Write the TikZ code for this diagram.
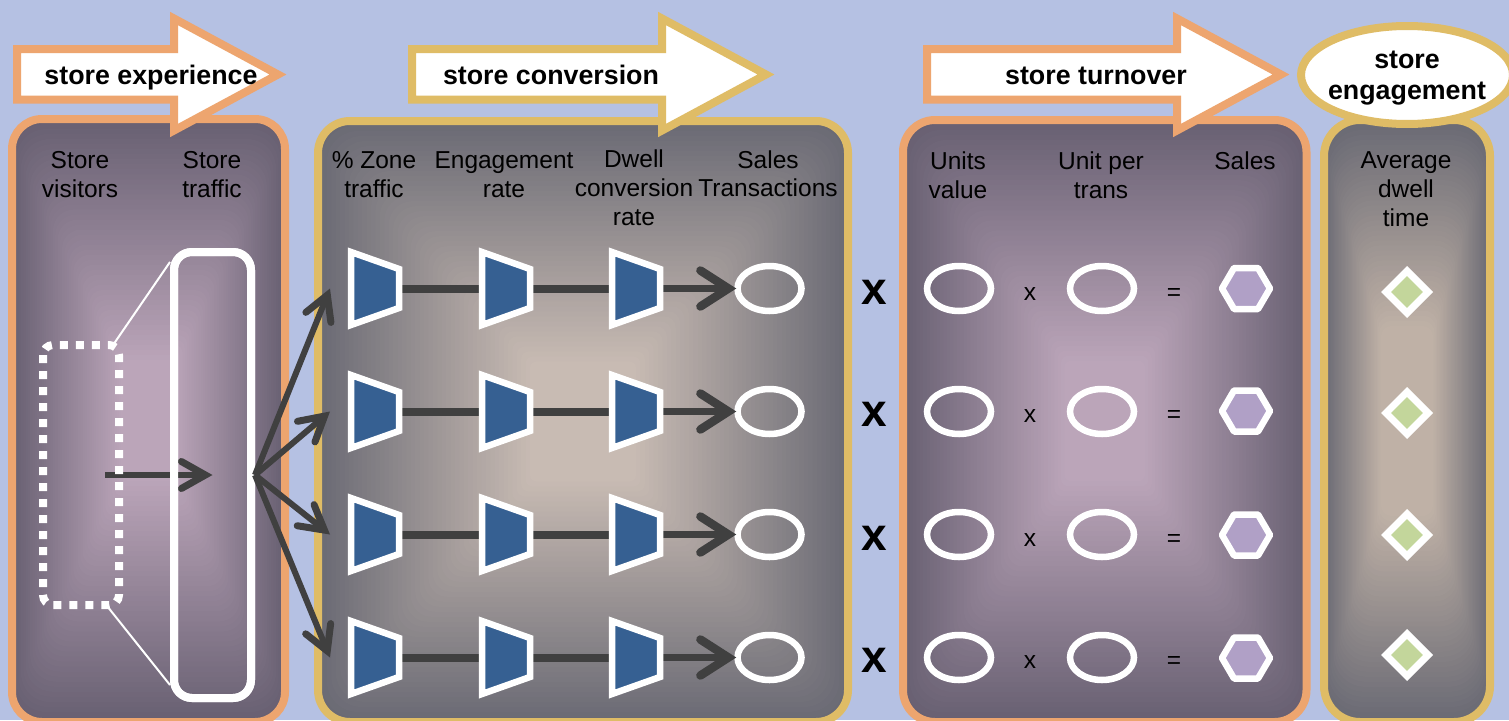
\documentclass[tikz,border=0pt]{standalone}
\usepackage{fontspec}
\setmainfont{Liberation Sans}
\usetikzlibrary{arrows.meta,calc,shapes.geometric}
\definecolor{bgblue}{HTML}{B5C1E3}
\definecolor{orangeline}{HTML}{EDA56F}
\definecolor{goldline}{HTML}{DFBC66}
\definecolor{plumout}{HTML}{686072}
\definecolor{plumin}{HTML}{BBA5B9}
\definecolor{greyout}{HTML}{6A6A74}
\definecolor{greyin}{HTML}{C8BBB3}
\definecolor{sandin}{HTML}{BFB1A6}
\definecolor{linkdark}{HTML}{404040}
\definecolor{trapblue}{HTML}{366092}
\definecolor{hexpurple}{HTML}{B0A0C6}
\definecolor{diagreen}{HTML}{C3D69B}
\newcommand\gradpanel[9]{%
  \foreach \i in {0,...,59}{%
    \pgfmathsetmacro\tt{\i/60}%
    \pgfmathsetmacro\pp{100*min(1,\tt/#9)}%
    \pgfmathsetmacro\rr{max(#5*(1-\tt),0.5)}%
    \fill[color=#7!\pp!#6,rounded corners=\rr pt]
      ({#1+\tt*(#3-#1)/2},{#2+\tt*(#4-#2)/2}) rectangle ({#3-\tt*(#3-#1)/2},{#4-\tt*(#4-#2)/2});
  }%
  \draw[#8,line width=8pt,rounded corners=#5pt] (#1,#2) rectangle (#3,#4);
}
\newcommand\banner[5]{% x-left, x-neck, x-tip, colour, name
  \draw[#4,fill=white,line width=8pt,miter limit=10]
    (#1,49) -- (#2,49) -- (#2,18.5) -- (#3,74.5) -- (#2,130.5) -- (#2,99.5) -- (#1,99.5) -- cycle;
}
\newcommand\trap[3]{% name, x, y
  \node[tracebox,minimum width=54pt,minimum height=84pt] (#1) at (#2,#3) {};
  \draw[white,fill=trapblue,line width=6.5pt,line join=miter]
    ($(#1.center)+(-24,-36.5)$) -- ($(#1.center)+(24,-19.5)$) -- ($(#1.center)+(24,19.5)$) -- ($(#1.center)+(-24,36.5)$) -- cycle;
}
\newcommand\hexa[3]{%
  \node[tracebox,minimum width=54pt,minimum height=47pt] (#1) at (#2,#3) {};
  \draw[white,fill=hexpurple,line width=6.5pt,line join=round]
    ($(#1.center)+(-24,0)$) -- ($(#1.center)+(-12,-20.5)$) -- ($(#1.center)+(12,-20.5)$) -- ($(#1.center)+(24,0)$) -- ($(#1.center)+(12,20.5)$) -- ($(#1.center)+(-12,20.5)$) -- cycle;
}
\tikzset{
  tracebox/.style={inner sep=0pt,outer sep=0pt},
  head/.style={font=\fontsize{26.8}{31.5}\selectfont\bfseries,align=center,inner sep=0pt},
  lab/.style={font=\fontsize{24.5}{29}\selectfont,align=center,inner sep=0pt,text=black},
  oval/.style={ellipse,draw=white,line width=6.5pt,inner sep=0pt,minimum width=64pt,minimum height=45pt},
  dia/.style={diamond,aspect=1,draw=white,fill=diagreen,line width=7pt,inner sep=0pt,minimum size=45pt},
  barb/.style={-{Straight Barb[length=24pt,width=27pt,line width=7pt,line cap=round,line join=miter]},linkdark,line width=6pt},
  bigbarb/.style={-{Straight Barb[length=28pt,width=36pt,line width=8.5pt,line cap=round,line join=miter]},linkdark,line width=7.5pt},
  link/.style={linkdark,line width=8pt},
  bigx/.style={font=\fontsize{46}{46}\selectfont\bfseries,inner sep=0pt},
  sym/.style={font=\fontsize{24.5}{24}\selectfont,inner sep=0pt},
}
\begin{document}
\begin{tikzpicture}[x=1pt,y=-1pt]
\useasboundingbox (0,0) rectangle (1509,720);
\clip (0,0) rectangle (1509,720);
\fill[bgblue] (0,0) rectangle (1509,720);
% panels
\gradpanel{12}{119}{285}{722}{30}{plumout}{plumin}{orangeline}{0.8}
\gradpanel{318}{121}{848}{722}{32}{greyout}{greyin}{goldline}{0.8}
\gradpanel{903}{120}{1306.5}{722}{32}{plumout}{plumin}{orangeline}{0.8}
\gradpanel{1324}{120}{1490}{722}{36}{greyout}{sandin}{goldline}{0.68}
% banners
\banner{17}{174}{278}{orangeline}{a}
\banner{412}{662}{766}{goldline}{b}
\banner{927}{1177}{1281}{orangeline}{c}
\node[ellipse,draw=goldline,fill=white,line width=8pt,inner sep=0pt,minimum width=212pt,minimum height=98pt] (engage) at (1407,75) {};
\node[head,anchor=base] (hexp) at (151,84) {store experience};
\node[head,anchor=base] (hcon) at (551,84) {store conversion};
\node[head,anchor=base] (htur) at (1096,84) {store turnover};
\node[head] (heng) at (1407,78) {store\\engagement};
% column labels
\node[lab] (l1) at (80,175) {Store\\visitors};
\node[lab] (l2) at (212,175) {Store\\traffic};
\node[lab] (l3) at (374,175) {\% Zone\\traffic};
\node[lab] (l4) at (504,174.5) {Engagement\\rate};
\node[lab] (l5) at (634,188) {Dwell\\conversion\\rate};
\node[lab,font=\fontsize{24.5}{28}\selectfont] (l6) at (768,174) {Sales\\Transactions};
\node[lab] (l7) at (958,175) {Units\\value};
\node[lab] (l8) at (1101,175) {Unit per\\trans};
\node[lab] (l9) at (1245,161) {Sales};
\node[lab] (l10) at (1406,189.5) {Average\\dwell\\time};
% store boxes
\node[draw=none,inner sep=0pt,minimum width=84pt,minimum height=268pt] (visitors) at (81,475) {};
\node[inner sep=0pt,minimum width=77pt,minimum height=446pt,draw=white,line width=8pt,rounded corners=18pt] (traffic) at (212.5,475) {};
\draw[barb] ($(visitors.center)+(24,0)$) -- (traffic.center);
\node[inner sep=0pt,minimum width=77pt,minimum height=446pt,draw=white,line width=8pt,rounded corners=18pt] at (212.5,475) {};
\draw[white,line width=8pt,dash pattern=on 8pt off 8pt,rounded corners=10pt] (43,345) rectangle (119,605);
\draw[white,line width=2pt] ($(visitors.north east)+(-10,4)$) -- ($(traffic.north west)+(0,14)$);
\draw[white,line width=2pt] ($(visitors.south east)+(-16,-3)$) -- ($(traffic.south west)+(0,-17)$);
% trapezoids, ovals, results
\foreach \r/\y/\hy/\dy/\xy/\sy in {1/288.5/288.5/292/292/294,2/411.5/411/413/414/416,3/534.5/535/535/538/540,4/657.5/658/655/660/662}{
  \node[tracebox,minimum width=54pt,minimum height=84pt] (ta\r) at (375,\y) {};
  \node[tracebox,minimum width=54pt,minimum height=84pt] (tb\r) at (506,\y) {};
  \node[tracebox,minimum width=54pt,minimum height=84pt] (tc\r) at (636,\y) {};
  \node[oval] (oa\r) at (769.5,\y) {};
  \coordinate (fan\r) at ($(ta\r.west)+(-18,0)$);
  \draw[link] (ta\r.center) -- (tb\r.center);
  \draw[link] (tb\r.center) -- (tc\r.center);
  \draw[bigbarb,shorten >=-2pt] (tc\r.center) -- (oa\r.west);
  \draw[barb] (traffic.east) -- (fan\r);
  \trap{ta\r}{375}{\y}
  \trap{tb\r}{506}{\y}
  \trap{tc\r}{636}{\y}
  \node[bigx] (bx\r) at (874,\xy) {x};
  \node[oval] (ob\r) at (959,\y) {};
  \node[sym] (sx\r) at (1030,\sy) {x};
  \node[oval] (oc\r) at (1102,\y) {};
  \node[sym] (eq\r) at (1174,\sy) {=};
  \hexa{hx\r}{1246}{\hy}
  \node[dia] (di\r) at (1407,\dy) {};
}
\end{tikzpicture}
\end{document}
